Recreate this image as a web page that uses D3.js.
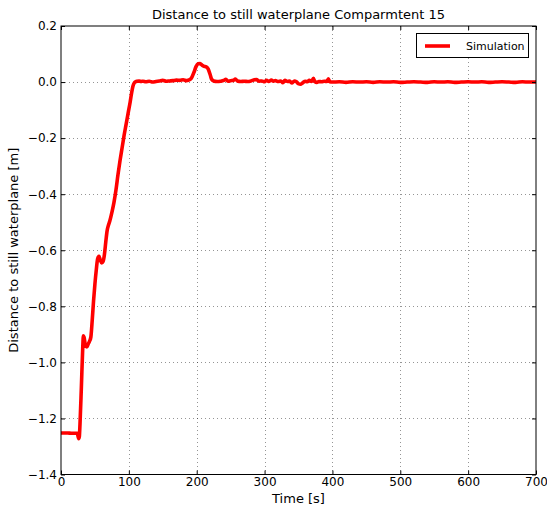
<!DOCTYPE html>
<html>
<head>
<meta charset="utf-8">
<script src="https://cdn.jsdelivr.net/npm/d3@7"></script>
<style>
  html, body { margin: 0; padding: 0; background: #fff; }
  svg { display: block; font-family: "DejaVu Sans", sans-serif; }
</style>
</head>
<body>
<svg id="chart" width="547" height="509"></svg>
<script>
// Time samples [s]
const timeSec = [
  0, 5, 10, 15, 20, 24, 26, 27, 28, 30, 32, 33, 34, 36, 38, 40, 42, 44, 46, 48,
  50, 52, 54, 56, 58, 60, 62, 64, 66, 68, 70, 72, 75, 78, 81, 84, 87, 90, 93, 96,
  99, 102, 104, 106, 108, 110, 112, 115, 118, 121, 125, 130, 135, 140, 145, 150, 155, 160, 165, 170,
  175, 180, 185, 190, 193, 196, 199, 202, 205, 208, 211, 214, 217, 220, 222, 225, 230, 235, 240, 243,
  246, 250, 254, 257, 260, 265, 270, 275, 280, 285, 288, 292, 296, 300, 303, 306, 310, 313, 316, 320,
  324, 327, 330, 334, 337, 340, 344, 347, 350, 353, 356, 360, 363, 366, 369, 372, 374, 377, 380, 384,
  388, 392, 394, 396, 400, 410, 420, 430, 440, 450, 460, 470, 480, 490, 500, 510, 520, 530, 540, 550,
  560, 570, 580, 590, 600, 610, 620, 630, 640, 650, 660, 670, 680, 690, 700
];

// Distance to still waterplane, compartment 15 [m]
const distance = [
  -1.252, -1.252, -1.252, -1.253, -1.253, -1.253, -1.272, -1.265, -1.22, -1.09, -0.95, -0.905, -0.91, -0.94, -0.945, -0.935, -0.925, -0.91, -0.85, -0.78,
  -0.72, -0.67, -0.63, -0.622, -0.635, -0.645, -0.64, -0.615, -0.57, -0.53, -0.51, -0.495, -0.465, -0.43, -0.385, -0.33, -0.28, -0.235, -0.19, -0.15,
  -0.11, -0.07, -0.04, -0.015, -0.003, 0.001, 0.003, 0.004, 0.002, 0.003, 0.001, 0.003, 0.0, 0.002, 0.004, 0.006, 0.003, 0.004, 0.005, 0.007,
  0.006, 0.008, 0.005, 0.009, 0.018, 0.035, 0.055, 0.065, 0.066, 0.06, 0.056, 0.054, 0.046, 0.025, 0.01, 0.004, 0.002, 0.003, 0.006, 0.01,
  0.003, 0.005, 0.006, 0.011, 0.004, 0.002, 0.003, 0.002, 0.004, 0.008, 0.009, 0.003, 0.004, 0.001, 0.006, 0.002, 0.007, 0.003, 0.005, 0.002,
  0.004, -0.002, 0.006, 0.002, 0.004, -0.003, 0.004, 0.001, -0.006, -0.008, -0.003, 0.003, 0.001, 0.006, 0.002, 0.013, 0.002, -0.001, 0.002, 0.001,
  0.003, 0.002, 0.012, 0.001, 0.0, 0.001, -0.001, 0.001, 0.0, 0.001, -0.001, 0.001, 0.0, 0.001, -0.001, 0.0, 0.001, 0.0, -0.001, 0.001,
  0.0, 0.001, -0.001, 0.0, 0.001, 0.0, 0.001, -0.001, 0.0, 0.001, 0.0, -0.001, 0.001, 0.0, 0.0
];

const xTicks = [0, 100, 200, 300, 400, 500, 600, 700];
const yTicks = [0.2, 0.0, -0.2, -0.4, -0.6, -0.8, -1.0, -1.2, -1.4];

const titleText = "Distance to still waterplane Comparmtent 15";
const xLabelText = "Time [s]";
const yLabelText = "Distance to still waterplane [m]";
const seriesName = "Simulation";

const margin = { left: 61, top: 26, right: 11, bottom: 34.5 };
const W = 547, H = 509;
const iw = W - margin.left - margin.right;
const ih = H - margin.top - margin.bottom;

const svg = d3.select("#chart");
const g = svg.append("g").attr("transform", `translate(${margin.left},${margin.top})`);

const x = d3.scaleLinear().domain([0, 700]).range([0, iw]);
const y = d3.scaleLinear().domain([-1.4, 0.2]).range([ih, 0]);

const fmtY = v => d3.format(".1f")(v).replace("-", "\u2212");

// dotted grid
const grid = g.append("g").attr("stroke", "#000").attr("stroke-opacity", 0.6)
  .attr("stroke-width", 0.7).attr("stroke-dasharray", "1,3");
grid.selectAll(".gx").data(xTicks.slice(1, -1)).join("line")
  .attr("x1", d => Math.round(x(d)) + 0.5).attr("x2", d => Math.round(x(d)) + 0.5)
  .attr("y1", 0).attr("y2", ih);
grid.selectAll(".gy").data(yTicks.slice(1, -1)).join("line")
  .attr("y1", d => Math.round(y(d)) + 0.5).attr("y2", d => Math.round(y(d)) + 0.5)
  .attr("x1", 0).attr("x2", iw);

// data line
const line = d3.line().x((d, i) => x(timeSec[i])).y(d => y(d)).curve(d3.curveMonotoneX);
const clipId = "plotclip";
g.append("clipPath").attr("id", clipId).append("rect").attr("width", iw).attr("height", ih);
g.append("path").datum(distance)
  .attr("clip-path", `url(#${clipId})`)
  .attr("fill", "none").attr("stroke", "#ff0000").attr("stroke-width", 3.6)
  .attr("stroke-linejoin", "round").attr("stroke-linecap", "round")
  .attr("d", line);

// axes with inward ticks
const xAxisB = d3.axisBottom(x).tickValues(xTicks).tickSizeInner(-4).tickSizeOuter(0).tickPadding(3).tickFormat(d3.format("d"));
const xAxisT = d3.axisTop(x).tickValues(xTicks).tickSizeInner(-4).tickSizeOuter(0).tickFormat("");
const yAxisL = d3.axisLeft(y).tickValues(yTicks).tickSizeInner(-4).tickSizeOuter(0).tickPadding(4).tickFormat(fmtY);
const yAxisR = d3.axisRight(y).tickValues(yTicks).tickSizeInner(-4).tickSizeOuter(0).tickFormat("");

function style(sel) {
  sel.select(".domain").remove();
  sel.selectAll("line").attr("stroke", "#000");
  sel.selectAll("text").attr("fill", "#000").attr("font-size", 12).attr("font-family", "DejaVu Sans, sans-serif");
}
g.append("g").attr("transform", `translate(0,${ih})`).call(xAxisB).call(style);
g.append("g").call(xAxisT).call(style);
g.append("g").call(yAxisL).call(style);
g.append("g").attr("transform", `translate(${iw},0)`).call(yAxisR).call(style);

// frame
g.append("rect").attr("x", 0).attr("y", 0).attr("width", iw).attr("height", ih)
  .attr("fill", "none").attr("stroke", "#000").attr("stroke-width", 1);

// legend
const lg = g.append("g").attr("transform", `translate(${x(700) - 120},${7})`);
lg.append("rect").attr("x", 0.5).attr("y", 0.5).attr("width", 112).attr("height", 24)
  .attr("fill", "#fff").attr("stroke", "#000").attr("stroke-width", 1);
lg.append("line").attr("x1", 9).attr("x2", 34).attr("y1", 13).attr("y2", 13)
  .attr("stroke", "#ff0000").attr("stroke-width", 3.6);
lg.append("text").attr("x", 50).attr("y", 17).attr("font-size", 11).attr("fill", "#000").text(seriesName);

// title and labels
svg.append("text").attr("x", margin.left + iw / 2).attr("y", 19).attr("text-anchor", "middle")
  .attr("font-size", 13).attr("fill", "#000").text(titleText);
svg.append("text").attr("x", margin.left + iw / 2).attr("y", 503).attr("text-anchor", "middle")
  .attr("font-size", 13).attr("fill", "#000").text(xLabelText);
svg.append("text").attr("transform", `translate(18,${margin.top + ih / 2}) rotate(-90)`)
  .attr("text-anchor", "middle").attr("font-size", 13).attr("fill", "#000").text(yLabelText);
</script>
</body>
</html>
